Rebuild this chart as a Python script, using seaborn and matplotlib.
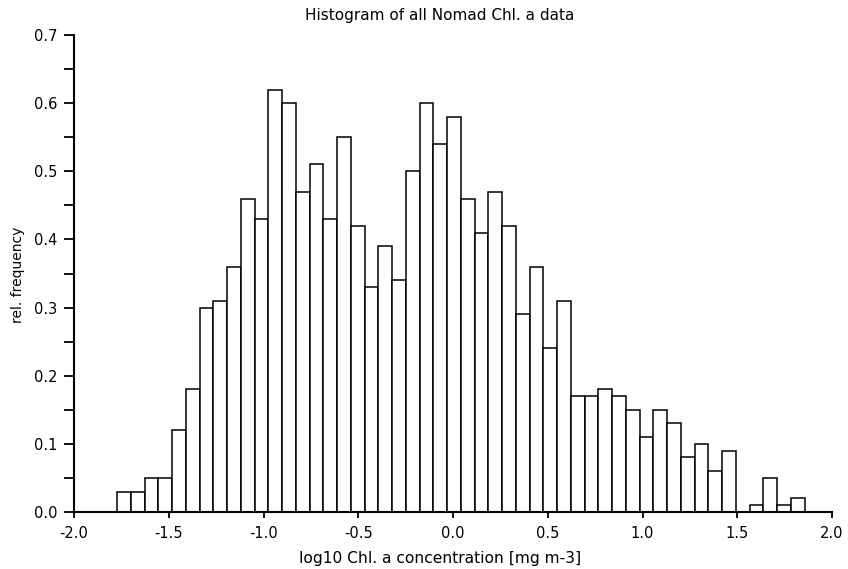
import numpy as np
import pandas as pd
import seaborn as sns
import matplotlib
matplotlib.use("Agg")
import matplotlib.pyplot as plt
from matplotlib.ticker import MultipleLocator, FormatStrFormatter

# ---- data ----
x_min = -1.773
x_max = 1.856
n_bins = 50
rel_freq = [
    0.03, 0.03, 0.05, 0.05, 0.12, 0.18, 0.30, 0.31, 0.36, 0.46,
    0.43, 0.62, 0.60, 0.47, 0.51, 0.43, 0.55, 0.42, 0.33, 0.39,
    0.34, 0.50, 0.60, 0.54, 0.58, 0.46, 0.41, 0.47, 0.42, 0.29,
    0.36, 0.24, 0.31, 0.17, 0.17, 0.18, 0.17, 0.15, 0.11, 0.15,
    0.13, 0.08, 0.10, 0.06, 0.09, 0.00, 0.01, 0.05, 0.01, 0.02,
]
title = "Histogram of all Nomad Chl. a data"
xlabel = "log10 Chl. a concentration [mg m-3]"
ylabel = "rel. frequency"

edges = np.linspace(x_min, x_max, n_bins + 1)
centers = 0.5 * (edges[:-1] + edges[1:])
df = pd.DataFrame({"x": centers, "w": rel_freq})

sns.set_style("ticks")
plt.rcParams["font.family"] = ["DejaVu Sans"]
plt.rcParams["axes.unicode_minus"] = False
plt.rcParams["text.color"] = "black"
plt.rcParams["xtick.color"] = "black"
plt.rcParams["ytick.color"] = "black"

fig = plt.figure(figsize=(8.48, 5.69), dpi=100)
ax = fig.add_axes([74 / 848, 1 - 512 / 569, (832 - 74) / 848, (512 - 35) / 569])

sns.histplot(data=df, x="x", weights="w", bins=list(edges), stat="count",
             color="white", edgecolor="black", linewidth=1.1, alpha=1.0, ax=ax)

ax.set_xlim(-2.0, 2.0)
ax.set_ylim(0.0, 0.7)
ax.xaxis.set_major_locator(MultipleLocator(0.5))
ax.xaxis.set_major_formatter(FormatStrFormatter("%.1f"))
ax.yaxis.set_major_locator(MultipleLocator(0.1))
ax.yaxis.set_minor_locator(MultipleLocator(0.05))
ax.yaxis.set_major_formatter(FormatStrFormatter("%.1f"))
ax.tick_params(axis="x", which="major", direction="out", length=4, width=1.3,
               labelsize=10.5, labelcolor="black", pad=6)
ax.tick_params(axis="y", which="both", direction="out", length=7, width=1.3,
               labelsize=10.5, labelcolor="black", pad=5)
for s in ["top", "right"]:
    ax.spines[s].set_visible(False)
for s in ["left", "bottom"]:
    ax.spines[s].set_linewidth(1.5)
    ax.spines[s].set_color("black")

ax.set_xlabel("")
ax.set_ylabel("")
fig.text(440 / 848, 1 - 20 / 569, title, ha="center", va="baseline", fontsize=11)
fig.text(440 / 848, 1 - 563 / 569, xlabel, ha="center", va="baseline", fontsize=11.2)
fig.text(18 / 848, 1 - 275 / 569, ylabel, ha="center", va="center", fontsize=10, rotation=90)

fig.savefig("out.png", dpi=100)
